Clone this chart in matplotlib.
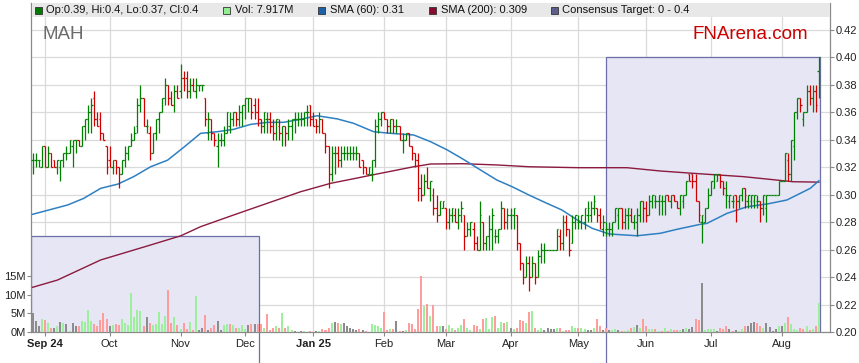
import numpy as np
import pandas as pd
import matplotlib
matplotlib.use("Agg")
import matplotlib.pyplot as plt
from matplotlib.collections import LineCollection
from matplotlib.patches import Rectangle
from matplotlib.transforms import blended_transform_factory

plt.rcParams['font.family'] = ['Liberation Sans', 'DejaVu Sans']

# ---------------- data ----------------
TICKER = "MAH"
START_DATE = "2024-08-27"
MONTH_LABELS = ["Sep 24", "Oct", "Nov", "Dec", "Jan 25", "Feb", "Mar", "Apr",
                "May", "Jun", "Jul", "Aug"]
PRICE_TICKS = [0.20, 0.22, 0.24, 0.26, 0.28, 0.30, 0.32, 0.34, 0.36, 0.38, 0.40, 0.42]
VOL_TICKS = [0, 5, 10, 15]
VOL_TICK_LABELS = ["0M", "5M", "10M", "15M"]

opens = [
    .325, .325, .325, .32, .335, .32, .33, .325, .32, .32,
    .325, .33, .33, .335, .34, .34, .335, .35, .355, .36,
    .37, .355, .355, .345, .335, .325, .32, .325, .32, .315,
    .325, .33, .335, .34, .35, .365, .37, .35, .345, .33,
    .345, .355, .36, .37, .38, .37, .365, .375, .375, .385,
    .385, .375, .38, .375, .38, .38, .37, .345, .355, .345,
    .335, .34, .34, .345, .35, .355, .36, .355, .36, .365,
    .37, .37, .365, .36, .355, .35, .355, .355, .35, .345,
    .35, .345, .35, .345, .35, .355, .355, .355, .355, .36,
    .365, .355, .355, .35, .355, .345, .335, .315, .33, .33,
    .325, .33, .33, .33, .33, .33, .33, .325, .32, .315,
    .315, .325, .35, .355, .36, .355, .35, .355, .35, .35,
    .34, .34, .345, .335, .33, .325, .305, .30, .31, .305,
    .30, .29, .285, .29, .29, .28, .285, .285, .28, .285,
    .285, .27, .275, .275, .265, .26, .28, .265, .27, .275,
    .27, .27, .275, .29, .28, .285, .285, .285, .265, .25,
    .24, .25, .24, .25, .24, .255, .26, .26, .26, .26,
    .26, .27, .265, .28, .275, .265, .28, .28, .28, .28,
    .285, .285, .29, .29, .285, .275, .275, .275, .275, .28,
    .285, .29, .28, .285, .285, .28, .28, .285, .295, .29,
    .285, .295, .295, .295, .295, .295, .30, .295, .30, .295,
    .29, .295, .30, .315, .315, .31, .295, .28, .28, .29,
    .30, .305, .31, .315, .31, .30, .295, .295, .30, .295,
    .30, .305, .295, .295, .295, .295, .295, .29, .29, .30,
    .30, .30, .30, .31, .31, .325, .315, .335, .36, .37,
    .355, .36, .375, .37, .375, .39,
]
highs = [
    .33, .33, .325, .335, .335, .335, .33, .325, .325, .325,
    .33, .335, .34, .34, .34, .34, .35, .355, .365, .37,
    .375, .36, .36, .345, .335, .335, .325, .325, .32, .325,
    .335, .335, .345, .35, .37, .38, .37, .355, .35, .345,
    .355, .36, .37, .385, .38, .375, .38, .38, .395, .39,
    .39, .385, .385, .385, .38, .38, .37, .36, .355, .345,
    .345, .345, .35, .36, .36, .36, .36, .365, .365, .37,
    .37, .37, .37, .37, .355, .36, .36, .36, .355, .355,
    .355, .35, .35, .355, .355, .36, .36, .36, .36, .365,
    .365, .36, .355, .36, .355, .345, .335, .335, .335, .335,
    .335, .335, .335, .335, .335, .335, .33, .325, .32, .32,
    .325, .355, .36, .36, .36, .355, .355, .355, .355, .35,
    .345, .345, .345, .335, .33, .33, .315, .315, .32, .31,
    .305, .30, .295, .295, .29, .29, .29, .29, .29, .295,
    .285, .28, .28, .28, .27, .295, .28, .27, .285, .29,
    .275, .275, .295, .29, .29, .29, .29, .285, .265, .25,
    .255, .255, .255, .25, .26, .265, .265, .26, .26, .26,
    .275, .275, .285, .285, .275, .285, .285, .285, .285, .29,
    .295, .295, .30, .29, .29, .285, .28, .28, .28, .29,
    .29, .29, .29, .29, .29, .285, .29, .295, .295, .295,
    .30, .30, .30, .30, .30, .30, .30, .30, .30, .295,
    .30, .30, .31, .315, .315, .315, .295, .285, .29, .305,
    .31, .315, .315, .315, .31, .31, .30, .30, .30, .30,
    .305, .305, .30, .30, .30, .30, .295, .30, .30, .30,
    .30, .30, .31, .31, .33, .33, .34, .36, .37, .37,
    .36, .38, .38, .38, .38, .40,
]
lows = [
    .315, .32, .32, .32, .32, .32, .32, .32, .315, .31,
    .32, .325, .33, .32, .33, .335, .335, .34, .345, .345,
    .35, .35, .34, .34, .315, .32, .315, .315, .305, .315,
    .32, .325, .335, .34, .345, .36, .35, .345, .325, .33,
    .34, .345, .36, .365, .365, .365, .36, .37, .37, .375,
    .37, .37, .375, .37, .375, .375, .35, .34, .34, .335,
    .32, .335, .335, .345, .345, .35, .35, .35, .35, .355,
    .36, .355, .355, .35, .345, .345, .345, .345, .34, .34,
    .34, .335, .335, .34, .34, .345, .35, .35, .35, .35,
    .35, .35, .345, .345, .345, .33, .305, .31, .315, .32,
    .32, .325, .325, .325, .325, .325, .32, .315, .315, .315,
    .31, .32, .345, .35, .355, .345, .345, .345, .345, .34,
    .33, .34, .335, .325, .32, .295, .295, .30, .305, .295,
    .285, .28, .285, .29, .275, .275, .28, .28, .275, .28,
    .26, .27, .27, .26, .26, .26, .26, .26, .26, .26,
    .265, .265, .275, .275, .275, .275, .275, .26, .245, .235,
    .24, .23, .24, .235, .24, .25, .25, .26, .26, .26,
    .26, .26, .26, .27, .255, .265, .275, .275, .275, .275,
    .28, .28, .285, .28, .275, .27, .27, .27, .27, .28,
    .275, .275, .275, .275, .28, .275, .27, .28, .28, .28,
    .285, .29, .29, .285, .285, .285, .295, .29, .295, .29,
    .285, .29, .30, .31, .305, .295, .28, .265, .28, .29,
    .30, .305, .31, .305, .30, .29, .29, .29, .28, .29,
    .295, .29, .29, .29, .29, .29, .28, .285, .28, .30,
    .30, .30, .30, .31, .31, .31, .31, .325, .355, .36,
    .35, .36, .365, .36, .36, .37,
]
closes = [
    .325, .325, .325, .335, .32, .33, .32, .32, .325, .325,
    .33, .33, .34, .34, .34, .335, .35, .355, .36, .365,
    .355, .35, .345, .34, .32, .32, .325, .32, .315, .325,
    .33, .335, .34, .345, .365, .37, .35, .35, .33, .345,
    .355, .36, .37, .38, .37, .365, .375, .37, .385, .38,
    .375, .38, .375, .38, .38, .38, .355, .355, .345, .34,
    .34, .34, .345, .36, .355, .36, .355, .36, .365, .37,
    .37, .36, .36, .355, .35, .36, .355, .35, .345, .355,
    .345, .35, .345, .35, .355, .355, .355, .355, .36, .36,
    .355, .35, .35, .355, .345, .335, .315, .33, .33, .325,
    .33, .33, .33, .33, .33, .33, .32, .32, .315, .32,
    .325, .35, .355, .36, .355, .35, .355, .35, .35, .34,
    .34, .345, .335, .33, .325, .305, .30, .31, .305, .31,
    .29, .285, .295, .295, .28, .285, .29, .28, .285, .29,
    .27, .275, .28, .265, .26, .285, .265, .27, .275, .285,
    .27, .275, .29, .28, .285, .285, .29, .265, .25, .24,
    .25, .24, .25, .24, .255, .26, .26, .26, .26, .26,
    .275, .265, .28, .275, .26, .28, .285, .28, .285, .29,
    .29, .29, .295, .285, .28, .28, .275, .275, .28, .29,
    .29, .28, .285, .29, .28, .285, .285, .295, .29, .285,
    .295, .30, .295, .30, .295, .30, .295, .30, .295, .29,
    .30, .30, .31, .31, .31, .295, .285, .285, .29, .30,
    .31, .315, .315, .31, .305, .30, .30, .295, .295, .30,
    .305, .30, .30, .30, .30, .295, .29, .30, .30, .30,
    .30, .30, .31, .31, .33, .315, .34, .36, .37, .365,
    .36, .375, .37, .375, .365, .40,
]
volumes_m = [
    5.0, 3.0, 1.5, 3.4, 3.2, 2.5, 1.2, 1.2, 1.5, 2.8,
    2.4, 2.1, 0.4, 2.5, 1.7, 1.7, 3.0, 2.8, 5.9, 3.0,
    2.1, 1.5, 3.2, 5.1, 3.5, 1.5, 1.8, 2.2, 1.9, 3.4,
    2.5, 2.0, 10.6, 4.1, 5.9, 5.6, 1.5, 4.1, 2.5, 1.8,
    2.1, 5.3, 2.1, 4.3, 11.4, 2.3, 4.1, 1.8, 0.8, 2.5,
    0.8, 2.8, 0.6, 9.6, 0.6, 1.2, 4.6, 0.6, 1.2, 1.9,
    3.0, 0.6, 1.8, 2.2, 2.1, 1.8, 1.2, 1.2, 1.8, 0.9,
    1.8, 2.2, 2.2, 2.2, 2.2, 1.2, 4.8, 0.6, 1.2, 1.7,
    1.2, 5.0, 1.1, 1.5, 0.6, 0.4, 0.1, 0.2, 0.4, 0.1,
    0.4, 0.1, 0.4, 0.4, 0.8, 0.6, 1.2, 2.5, 2.8, 2.5,
    2.2, 2.5, 1.7, 1.0, 0.9, 0.6, 0.9, 0.6, 0.4, 0.1,
    2.2, 1.9, 1.5, 1.2, 5.4, 0.6, 0.8, 0.8, 3.0, 0.4,
    0.4, 0.6, 2.4, 2.1, 0.9, 6.1, 15.0, 6.9, 7.6, 4.3,
    7.2, 1.7, 1.7, 1.7, 0.8, 1.8, 1.2, 0.6, 1.2, 1.9,
    3.4, 1.2, 0.6, 2.0, 1.5, 0.8, 3.4, 3.7, 0.8, 4.1,
    4.3, 1.2, 2.8, 2.3, 2.7, 1.2, 0.8, 1.0, 3.2, 3.0,
    2.5, 5.4, 5.6, 1.2, 0.6, 1.2, 0.6, 1.2, 0.8, 0.8,
    1.2, 1.2, 0.4, 0.6, 0.6, 1.7, 1.2, 1.0, 1.2, 0.9,
    0.6, 0.6, 1.0, 3.4, 1.5, 0.6, 1.0, 0.6, 0.6, 0.8,
    0.6, 0.4, 0.4, 0.6, 1.0, 1.3, 1.8, 1.0, 3.4, 1.7,
    0.8, 0.8, 0.8, 0.4, 0.4, 1.2, 0.4, 0.8, 0.6, 0.6,
    0.6, 0.8, 1.0, 0.8, 1.3, 3.4, 3.2, 13.2, 0.6, 0.8,
    0.8, 0.8, 0.4, 1.0, 0.8, 1.7, 0.8, 0.4, 0.6, 0.4,
    0.8, 1.7, 1.7, 2.5, 2.8, 2.5, 1.5, 1.0, 2.5, 1.3,
    0.4, 0.8, 1.5, 1.7, 2.4, 4.1, 2.2, 0.8, 0.6, 1.0,
    0.8, 1.7, 0.6, 0.8, 1.5, 7.917,
]

# moving averages (bar position, value)
sma60_pos = [0, 11.4, 16.6, 22.1, 27.7, 32.8, 38.3, 43.8, 49, 54.5, 60, 65.2, 70.7,
             76.2, 81.4, 86.9, 92.3, 98.8, 104.1, 110.6, 116.1, 123.6, 129.1, 134.5,
             139.7, 145.3, 150.6, 155.5, 161, 166.8, 171.7, 176.6, 181.5, 187, 196,
             203.6, 209, 216.5, 218.7, 225.2, 231.7, 238.2, 244.6, 249, 252.2, 255]
sma60_val = [.2856, .2924, .2972, .3045, .3076, .313, .3202, .325, .3343, .3445, .3457,
             .3474, .351, .3525, .3525, .3547, .3573, .355, .3518, .3457, .3445, .3433,
             .3384, .3324, .3256, .3178, .3105, .3057, .2996, .2936, .2887, .2815,
             .2754, .2713, .27, .2718, .2747, .2783, .279, .2863, .2911, .2931, .296,
             .3009, .3045, .31]
sma200_pos = [0, 8.1, 22.1, 38.3, 48.1, 54.5, 65.2, 76.1, 86.9, 96.6, 112.8, 123.6,
              129.1, 139.7, 150.6, 161, 177.2, 192.8, 203.6, 214.3, 230.5, 241.4,
              246.6, 255]
sma200_val = [.2325, .2378, .2524, .2633, .27, .2766, .2851, .2936, .302, .3081, .3154,
              .3202, .3222, .3224, .3215, .3202, .3195, .3195, .3171, .3154, .313,
              .3105, .3093, .309]

# consensus target periods (bar position start/end, low, high)
target_start = [-0.5, 186.1]
target_end = [73.3, 255.5]
target_low = [0.0, 0.0]
target_high = [0.27, 0.40]

legend_labels = ["Op:0.39, Hi:0.4, Lo:0.37, Cl:0.4", "Vol: 7.917M", "SMA (60): 0.31",
                 "SMA (200): 0.309", "Consensus Target: 0 - 0.4"]

# ---------------- figure ----------------
n = len(closes)
xs = np.arange(n)
dates = pd.bdate_range(START_DATE, periods=n)
month_idx = [i for i in range(1, n) if dates[i].month != dates[i - 1].month]

W, H = 859, 363
L, R, B, T = 31, 830, 332, 3
fig = plt.figure(figsize=(W / 100, H / 100), dpi=100)
ax = fig.add_axes([L / W, 1 - B / H, (R - L) / W, (B - T) / H])
ax.set_xlim(-0.5, n - 0.5 + 3.1)
ax.set_ylim(0.20, 0.4393)

GRID = "#dadada"
SPINE = "#8a8a8a"

# volume on its own (left) scale
axv = ax.twinx()
axv.set_ylim(0, 88.9)
axv.yaxis.tick_left()
axv.yaxis.set_label_position("left")
axv.set_yticks(VOL_TICKS)
axv.set_yticklabels(VOL_TICK_LABELS)
axv.tick_params(axis="y", labelsize=8, colors="#222222", length=3, width=0.8,
                color=SPINE, pad=1, left=True, labelleft=True, right=False,
                labelright=False)
for s in axv.spines.values():
    s.set_visible(False)
axv.patch.set_visible(False)

ax.set_yticks(PRICE_TICKS)
ax.set_yticklabels([f"{v:.2f}" for v in PRICE_TICKS])
ax.yaxis.tick_right()
ax.set_xticks(month_idx)
ax.set_xticklabels(MONTH_LABELS[:len(month_idx)])
for lab in ax.get_xticklabels():
    if " " in lab.get_text():
        lab.set_fontweight("bold")
ax.grid(True, color=GRID, lw=0.9)
ax.set_axisbelow(True)
ax.tick_params(axis="both", labelsize=8, colors="#222222", length=3, width=0.8,
               color=SPINE, pad=2)
ax.tick_params(axis="y", left=False, labelleft=False, right=True, labelright=True,
               pad=1)
for s in ["left", "right", "bottom"]:
    ax.spines[s].set_color(SPINE)
    ax.spines[s].set_linewidth(0.9)
ax.spines["top"].set_visible(False)

# consensus target boxes
for s0, s1, lo, hi in zip(target_start, target_end, target_low, target_high):
    ax.add_patch(Rectangle((s0, lo), s1 - s0, hi - lo, facecolor="#e6e6f5",
                           edgecolor="#6e6ea8", lw=0.9, zorder=1))
btrans = blended_transform_factory(ax.transData, ax.transAxes)
for xe in [target_end[0], target_start[1]]:
    ax.plot([xe, xe], [-0.1, 0.0], transform=btrans, clip_on=False,
            color="#6e6ea8", lw=0.9, zorder=1)

# moving averages
ax.plot(sma200_pos, sma200_val, color="#8b1a3e", lw=1.0, zorder=3)
ax.plot(sma60_pos, sma60_val, color="#2f80c2", lw=1.1, zorder=3)

# OHLC bars
segs, cols = [], []
for i in range(n):
    c = "#008000" if closes[i] >= opens[i] else "#d00000"
    segs.append([(xs[i], lows[i]), (xs[i], highs[i])])
    segs.append([(xs[i] - 0.5, opens[i]), (xs[i], opens[i])])
    segs.append([(xs[i], closes[i]), (xs[i] + 0.5, closes[i])])
    cols += [c, c, c]
ax.add_collection(LineCollection(segs, colors=cols, linewidths=0.9, zorder=4,
                                 capstyle="butt"))

vcols = []
for i in range(n):
    prev = closes[i - 1] if i > 0 else opens[i]
    if closes[i] > prev:
        vcols.append("#9cf09c")
    elif closes[i] < prev:
        vcols.append("#ff9c9c")
    else:
        vcols.append("#8c8c8c")
axv.bar(xs, volumes_m, width=0.65, color=vcols, linewidth=0, zorder=2)

# header band with legend
fig.add_artist(Rectangle((32 / W, 1 - 17 / H), (R - 32) / W, 14 / H,
                         transform=fig.transFigure, facecolor="#e8e8e8",
                         edgecolor="none", zorder=1))
leg_x = [35, 223, 318, 429, 551]
leg_c = ["#007a00", "#90ee90", "#1c62a6", "#8b0a30", "#5e5e8e"]
for lx, lc, lt in zip(leg_x, leg_c, legend_labels):
    fig.add_artist(Rectangle((lx / W, 1 - 14 / H), 7 / W, 7 / H,
                             transform=fig.transFigure, facecolor=lc,
                             edgecolor="#333333", lw=0.6, zorder=2))
    fig.text((lx + 11.5) / W, 1 - 10.3 / H, lt, fontsize=8, color="#111111",
             va="center", ha="left", zorder=3)

fig.text(42 / W, 1 - 39 / H, TICKER, fontsize=13.5, color="#6a6a6a",
         va="baseline", ha="left")
fig.text(808 / W, 1 - 39 / H, "FNArena.com", fontsize=13.5, color="#cc0000",
         va="baseline", ha="right")

fig.savefig("out.png", dpi=100)
